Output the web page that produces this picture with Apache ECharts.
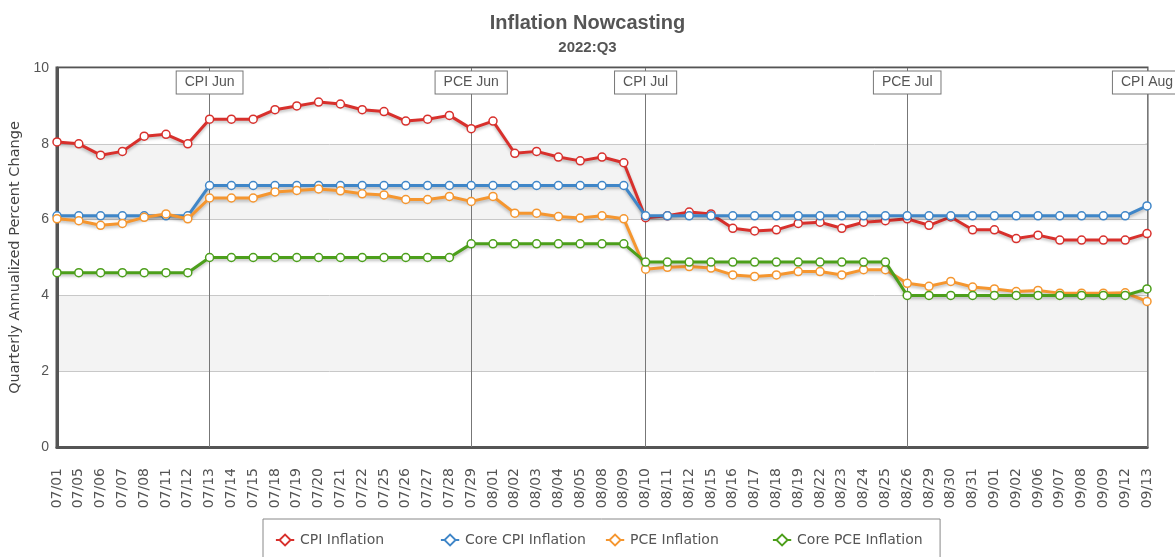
<!DOCTYPE html>
<html><head><meta charset="utf-8">
<script src="https://cdn.jsdelivr.net/npm/echarts@6/dist/echarts.min.js"></script>
<style>html,body{margin:0;padding:0;background:#fff}#c{width:1175px;height:557px}</style>
</head><body><div id="c"></div>
<script>
const dates = ['07/01','07/05','07/06','07/07','07/08','07/11','07/12','07/13','07/14','07/15','07/18','07/19','07/20','07/21','07/22','07/25','07/26','07/27','07/28','07/29','08/01','08/02','08/03','08/04','08/05','08/08','08/09','08/10','08/11','08/12','08/15','08/16','08/17','08/18','08/19','08/22','08/23','08/24','08/25','08/26','08/29','08/30','08/31','09/01','09/02','09/06','09/07','09/08','09/09','09/12','09/13'];
const cpi = [8.05,8.0,7.7,7.8,8.2,8.25,8.0,8.65,8.65,8.65,8.9,9.0,9.1,9.05,8.9,8.85,8.6,8.65,8.75,8.4,8.6,7.75,7.8,7.65,7.55,7.65,7.5,6.05,6.1,6.2,6.15,5.77,5.7,5.73,5.9,5.93,5.77,5.93,5.97,6.02,5.85,6.07,5.73,5.73,5.5,5.59,5.46,5.46,5.46,5.46,5.63];
const coreCpi = [6.1,6.1,6.1,6.1,6.1,6.1,6.1,6.9,6.9,6.9,6.9,6.9,6.9,6.9,6.9,6.9,6.9,6.9,6.9,6.9,6.9,6.9,6.9,6.9,6.9,6.9,6.9,6.1,6.1,6.1,6.1,6.1,6.1,6.1,6.1,6.1,6.1,6.1,6.1,6.1,6.1,6.1,6.1,6.1,6.1,6.1,6.1,6.1,6.1,6.1,6.36];
const pce = [6.02,5.97,5.85,5.9,6.06,6.15,6.02,6.57,6.57,6.57,6.73,6.77,6.81,6.76,6.68,6.65,6.53,6.53,6.61,6.48,6.61,6.17,6.17,6.08,6.04,6.1,6.02,4.69,4.74,4.76,4.72,4.54,4.5,4.54,4.63,4.63,4.54,4.68,4.68,4.32,4.24,4.37,4.22,4.17,4.1,4.13,4.06,4.06,4.06,4.07,3.84];
const corePce = [4.6,4.6,4.6,4.6,4.6,4.6,4.6,5.0,5.0,5.0,5.0,5.0,5.0,5.0,5.0,5.0,5.0,5.0,5.0,5.36,5.36,5.36,5.36,5.36,5.36,5.36,5.36,4.88,4.88,4.88,4.88,4.88,4.88,4.88,4.88,4.88,4.88,4.88,4.88,4.0,4.0,4.0,4.0,4.0,4.0,4.0,4.0,4.0,4.0,4.0,4.17];
const seriesNames = ['CPI Inflation','Core CPI Inflation','PCE Inflation','Core PCE Inflation'];
const releaseDates = ['07/13','07/29','08/10','08/26','09/13'];
const releaseLabels = ['CPI Jun','PCE Jun','CPI Jul','PCE Jul','CPI Aug'];
const yTicks = [0,2,4,6,8,10];

const colors = ['#d8302c','#3f86c8','#f5962f','#4c9f1b'];
const font = 'Liberation Sans, Arial, sans-serif';
const wide = 'DejaVu Sans, sans-serif';
const chart = echarts.init(document.getElementById('c'));
const allData = [cpi, coreCpi, pce, corePce];

const series = seriesNames.map((n,i)=>({
  name:n, type:'line', data: allData[i],
  symbol:'circle', symbolSize:8, showSymbol:true,
  itemStyle:{color:'#fff', borderColor:colors[i], borderWidth:1.5},
  lineStyle:{color:colors[i], width:3, shadowColor:'rgba(0,0,0,0.25)', shadowBlur:3, shadowOffsetY:2},
  emphasis:{disabled:true}, animation:false, z: 5+i
}));
series.push({
  name:'releases', type:'line', data:[], silent:true, animation:false,
  markLine:{symbol:'none', silent:true, animation:false,
    lineStyle:{color:'#777', width:1, type:'solid'},
    label:{show:false},
    data: releaseDates.map(d=>({xAxis:d}))},
  markPoint:{symbol:'rect', symbolSize:0, silent:true, animation:false,
    label:{show:true, position:'inside', color:'#555', fontSize:14, fontFamily:font,
      backgroundColor:'#fff', borderColor:'#777', borderWidth:1, padding:[4,8,4,8],
      formatter:p=>p.name},
    data: releaseDates.map((d,i)=>({name:releaseLabels[i], coord:[d, 9.62]}))},
  z: 3
});

const iconPath = 'path://M0,6 L4,6 L10,0 L16,6 L20,6 L16,6 L10,12 L4,6 Z';
const legendLefts = [275, 440, 605, 772];
const legends = seriesNames.map((n,i)=>({
  data:[{name:n, icon:iconPath, itemStyle:{color:'#fff', borderColor:colors[i], borderWidth:1.8}}],
  left: i===0 ? 263 : legendLefts[i], top: i===0 ? 519 : 533,
  itemWidth:20, itemHeight:11, itemGap:5,
  borderColor: i===0 ? '#888' : 'transparent', borderWidth: i===0 ? 1 : 0,
  padding: i===0 ? [14,556,14,12] : 0,
  selectedMode:false,
  textStyle:{color:'#555', fontSize:14, fontFamily:wide}
}));

chart.setOption({
  animation:false,
  title:{text:'Inflation Nowcasting', subtext:'2022:Q3', left:'center', top:8, itemGap:7,
    textStyle:{fontSize:20, fontWeight:'bold', color:'#555', fontFamily:font},
    subtextStyle:{fontSize:15, fontWeight:'bold', color:'#555', fontFamily:font}},
  grid:{left:57, right:28, top:68, bottom:110, show:true, borderColor:'#555', borderWidth:3,
    backgroundColor:'transparent', outerBoundsMode:'none', containLabel:false},
  legend: legends,
  xAxis:{type:'category', data:dates, boundaryGap:false,
    axisLine:{show:true, lineStyle:{color:'#555', width:3}},
    axisTick:{show:false},
    axisLabel:{interval:0, rotate:90, fontSize:14, color:'#555', fontFamily:wide, margin:21},
    splitLine:{show:false}},
  yAxis:{type:'value', min:0, max:10, interval:2,
    name:'Quarterly Annualized Percent Change', nameLocation:'middle', nameGap:33,
    nameTextStyle:{fontSize:14.5, color:'#444', fontFamily:wide},
    axisLine:{show:true, lineStyle:{color:'#555', width:3}},
    axisTick:{show:false},
    axisLabel:{fontSize:14, color:'#555', fontFamily:font, margin:8,
      formatter:v=>yTicks.includes(v)?String(v):''},
    splitLine:{show:true, lineStyle:{color:'#c8c8c8', width:1}},
    splitArea:{show:true, areaStyle:{color:['#ffffff','#f3f3f3']}}},
  series
});
</script></body></html>
